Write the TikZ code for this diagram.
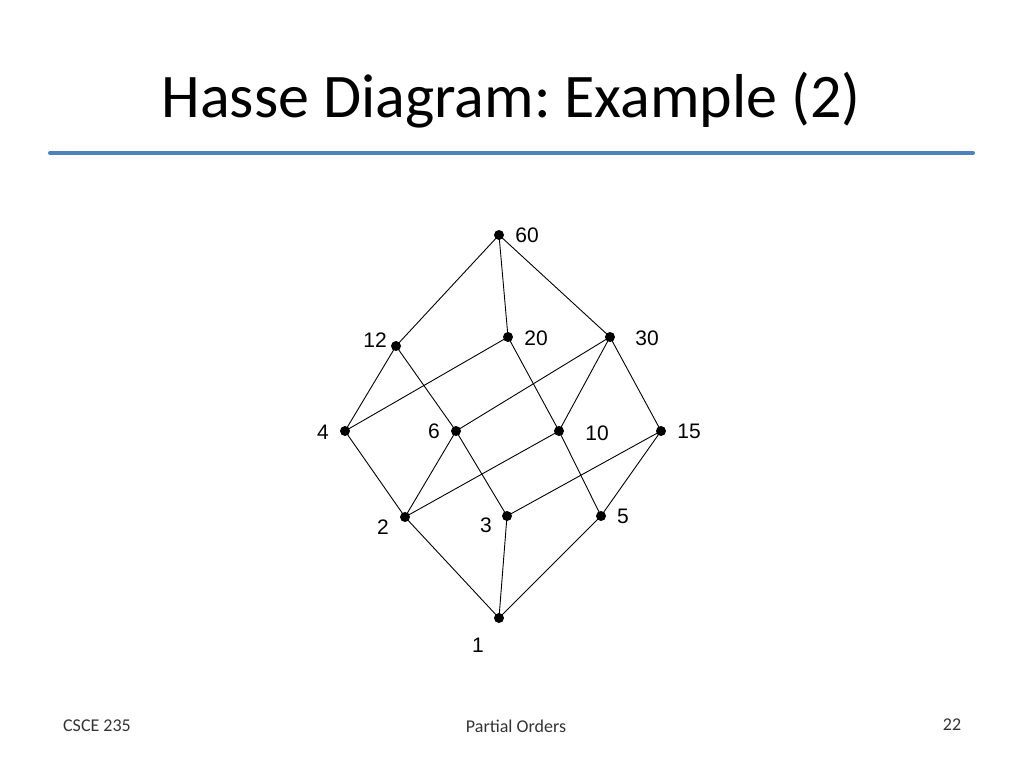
\documentclass[tikz,border=0pt]{standalone}
\usepackage{fontspec}
\setmainfont{Carlito}
\newfontfamily\arialf{Liberation Sans}
\definecolor{rule}{RGB}{79,129,189}
\frenchspacing
\begin{document}
\begin{tikzpicture}[x=1pt,y=-1pt,line width=0.9pt,
  pt/.style={circle,fill=black,inner sep=0pt,minimum size=10pt},
  lab/.style={font=\arialf\fontsize{21}{24}\selectfont},
  foot/.style={font=\fontsize{18}{21}\selectfont,text=black!80}]
\useasboundingbox (0,0) rectangle (1024,768);
\node[font=\fontsize{62}{70}\selectfont] (title) at (511,100) {Hasse Diagram: Example (2)};
\draw[rule,line width=4pt,line cap=round] (50,153) coordinate (r1) -- (973,153) coordinate (r2);
\foreach \n/\x/\y in {60/499/235,12/396/346,20/508/337,30/610/337,4/345/431,6/456/431,10/559/431,15/661/431,2/405/517,3/507/516,5/601/516,1/499/618}
  \node[pt] (n\n) at (\x,\y) {};
\foreach \a/\b in {60/12,60/20,60/30,12/4,12/6,20/4,20/10,30/6,30/10,30/15,4/2,6/2,6/3,10/2,10/5,15/3,15/5,2/1,3/1,5/1}
  \draw (n\a.center) -- (n\b.center);
\foreach \n/\x/\y in {60/527/235,12/375/340,20/536/338,30/647/338,4/323/432,6/434/431,10/597/433,15/689/431,2/383/527,3/486/525,5/623/516,1/478/645}
  \node[lab] (l\n) at (\x,\y) {\n};
\node[foot] (f1) at (97,726) {CSCE 235};
\node[foot] (f2) at (516,726) {Partial Orders};
\node[foot] (f3) at (952,725) {22};
\end{tikzpicture}
\end{document}
